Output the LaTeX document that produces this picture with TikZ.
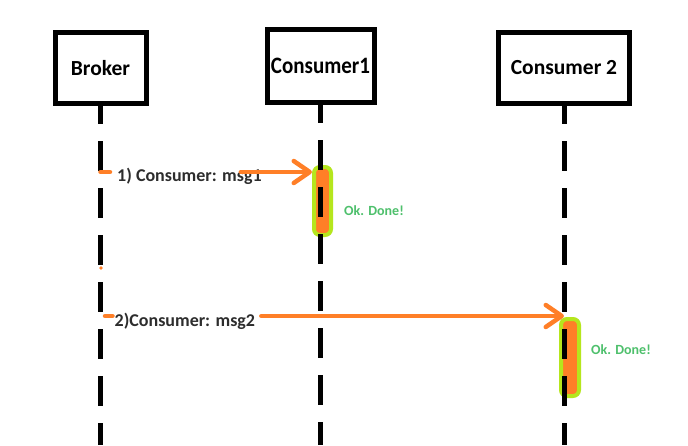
\documentclass[tikz,border=0pt]{standalone}
\usepackage{fontspec}
\setmainfont{Carlito}
\usetikzlibrary{arrows.meta}
\definecolor{msgorange}{RGB}{255,127,39}
\definecolor{actlime}{RGB}{181,230,29}
\definecolor{donegreen}{RGB}{78,192,108}
\definecolor{labelgrey}{RGB}{45,45,45}
\begin{document}
\begin{tikzpicture}[x=1pt,y=-1pt]
        \tikzstyle{actor}=[rectangle,draw=black,line width=5pt,fill=white,inner sep=0pt]
        \tikzstyle{lifeline}=[draw=black,line width=5pt,dash pattern=on 30pt off 17pt,dash phase=12pt]
        \tikzstyle{activation}=[rectangle,rounded corners=6pt,draw=actlime,line width=4pt,fill=msgorange,inner sep=0pt]
        \tikzstyle{msg}=[draw=msgorange,line width=4.5pt,line cap=round]
        \tikzstyle{msgtip}=[-{Straight Barb[length=16pt,width=22pt,round]}]
        \tikzstyle{msglabel}=[text=labelgrey,font=\bfseries\fontsize{18}{20}\selectfont,inner sep=0pt,anchor=base west]
        \tikzstyle{done}=[text=donegreen,font=\bfseries\fontsize{14}{16}\selectfont,inner sep=0pt,anchor=west]
        \fill[white] (0,0) rectangle (688,445);
        \useasboundingbox (0,0) rectangle (688,445);
       \begin{scope}
         \node [actor,minimum width=91pt,minimum height=71pt,font=\bfseries\fontsize{21.5}{24}\selectfont] (broker) at (100.5,68) {Broker};
         \node [actor,minimum width=107pt,minimum height=73pt,font=\bfseries\fontsize{21}{24}\selectfont] (cons1) at (320.5,66) {\scalebox{1}[1.12]{Consumer1}};
         \node [actor,minimum width=131pt,minimum height=71pt,font=\bfseries\fontsize{21.5}{24}\selectfont] (cons2) at (564,68) {Consumer 2};
         \node [activation,minimum width=17pt,minimum height=68pt] (act1) at (322.5,201) {};
         \node [activation,minimum width=18pt,minimum height=77pt] (act2) at (570,357.5) {};
         \coordinate (brokerEnd) at (100.5,445);
         \coordinate (cons1End) at (320.5,445);
         \coordinate (cons2End) at (564,445);
         \path[lifeline] (broker.south) -- (brokerEnd);
         \path[lifeline] (cons1.south) -- (cons1End);
         \path[lifeline] (cons2.south) -- (cons2End);
         \fill[msgorange] (101,268) circle (1.8);
         % first message
         \coordinate (m1) at (100.5,172);
         \node [msglabel] (lbl1) at (117,181) {1) Consumer: msg1};
         \path[msg] (m1) -- ++(9.5,0);
         \path[msg,msgtip] (m1 -| lbl1.east) ++(-21,0) -- (m1 -| act1.west);
         \node [done] (done1) at (344,211) {Ok. Done!};
         % second message
         \coordinate (m2) at (105,316);
         \node [msglabel] (lbl2) at (114.5,326) {2)Consumer: msg2};
         \path[msg] (m2) -- ++(7.5,0);
         \path[msg,msgtip] (m2 -| lbl2.east) ++(6,0) -- (m2 -| cons2.south);
         \node [done] (done2) at (591,350) {Ok. Done!};
        \end{scope}
      \end{tikzpicture}
\end{document}
